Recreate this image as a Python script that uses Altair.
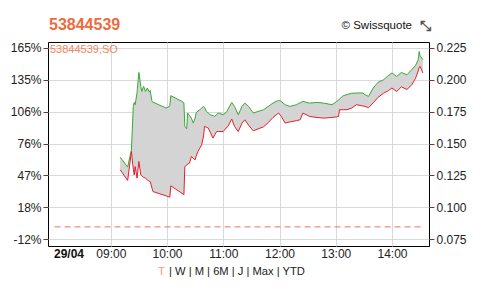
import json
import altair as alt
import pandas as pd

# ---- data ----
times = ["09:10","09:18","09:22","09:24","09:25","09:26","09:28","09:30","09:32","09:33",
         "09:35","09:37","09:39","09:41","09:42","09:44","09:45","09:59","10:01","10:03",
         "10:04","10:16","10:18","10:19","10:21","10:22","10:24","10:26","10:28","10:30",
         "10:31","10:33","10:35","10:37","10:39","10:40","10:42","10:44","10:46","10:49",
         "10:51","10:53","10:55","11:00","11:04","11:05","11:09","11:12","11:16","11:20",
         "11:23","11:27","11:32","11:37","11:43","11:48","11:53","11:59","12:02","12:06",
         "12:11","12:18","12:22","12:25","12:32","12:40","12:47","12:56","13:01","13:03",
         "13:04","13:08","13:12","13:17","13:22","13:29","13:31","13:35","13:40","13:45",
         "13:51","13:56","14:00","14:05","14:10","14:16","14:21","14:25","14:28","14:29",
         "14:30","14:33"]
high = [0.1394,0.1316,0.1451,0.1791,0.1823,0.1805,0.1900,0.2058,0.1949,0.1909,
        0.1949,0.1909,0.1936,0.1905,0.1917,0.1831,0.1825,0.1779,0.1785,0.1797,
        0.1876,0.1831,0.1820,0.1635,0.1617,0.1740,0.1720,0.1700,0.1661,0.1700,
        0.1740,0.1755,0.1766,0.1780,0.1792,0.1785,0.1752,0.1740,0.1726,0.1720,
        0.1713,0.1730,0.1740,0.1726,0.1752,0.1770,0.1823,0.1792,0.1726,0.1792,
        0.1818,0.1792,0.1740,0.1752,0.1766,0.1792,0.1818,0.1840,0.1830,0.1805,
        0.1792,0.1805,0.1820,0.1831,0.1818,0.1823,0.1818,0.1805,0.1831,0.1840,
        0.1850,0.1876,0.1885,0.1895,0.1897,0.1897,0.1885,0.1870,0.1936,0.1980,
        0.2001,0.2033,0.2054,0.2027,0.2058,0.2040,0.2080,0.2111,0.2158,0.2223,
        0.2190,0.2158]
low = [0.1295,0.1211,0.1438,0.1300,0.1255,0.1320,0.1229,0.1360,0.1255,0.1248,
       0.1235,0.1229,0.1215,0.1205,0.1203,0.1150,0.1124,0.1090,0.1085,0.1080,
       0.1169,0.1110,0.1098,0.1320,0.1330,0.1340,0.1347,0.1399,0.1385,0.1373,
       0.1400,0.1438,0.1465,0.1491,0.1560,0.1635,0.1628,0.1622,0.1590,0.1543,
       0.1570,0.1595,0.1595,0.1595,0.1630,0.1635,0.1693,0.1635,0.1595,0.1661,
       0.1687,0.1645,0.1600,0.1615,0.1632,0.1665,0.1705,0.1740,0.1713,0.1661,
       0.1670,0.1680,0.1687,0.1740,0.1713,0.1705,0.1700,0.1705,0.1710,0.1713,
       0.1766,0.1766,0.1766,0.1779,0.1805,0.1795,0.1792,0.1782,0.1820,0.1862,
       0.1895,0.1915,0.1936,0.1909,0.1945,0.1925,0.1960,0.2010,0.2070,0.2100,
       0.2106,0.2054]
ref_price = 0.0847
ref_start, ref_end = "08:00", "14:32"
x_domain = ["07:53", "14:39:30"]
y_domain = [0.0697, 0.2297]
hour_ticks = ["09:00", "10:00", "11:00", "12:00", "13:00", "14:00"]
right_ticks = [0.075, 0.100, 0.125, 0.150, 0.175, 0.200, 0.225]
left_labels = ["-12%", "18%", "47%", "76%", "106%", "135%", "165%"]
day = "2024-04-29"
day_label = "29/04"
title_text = "53844539"
series_label = "53844539,SO"
credit = "© Swissquote"
nav_first = "T"
nav_rest = "| W | M | 6M | J | Max | YTD"

def ts(hm):
    return f"{day}T{hm if hm.count(':') == 2 else hm + ':00'}Z"

def ms(hm):
    return int(pd.Timestamp(ts(hm)).value // 1_000_000)

df = pd.DataFrame({"t": [ts(t) for t in times], "high": high, "low": low})
ref_df = pd.DataFrame({"t": [ts(ref_start)], "t2": [ts(ref_end)], "p": [ref_price]})

FONT = "Liberation Sans"
W, H = 381, 204

xscale = alt.Scale(type="utc", domain=[ms(x_domain[0]), ms(x_domain[1])])
yscale = alt.Scale(domain=y_domain, nice=False, zero=False)

left_expr = f"{json.dumps(left_labels)}[round((datum.value-{right_ticks[0]})/0.025)]"

xaxis = alt.Axis(values=[ms(h) for h in hour_ticks],
                 labelExpr="utcFormat(datum.value, '%H:%M')",
                 title=None, grid=True, gridColor="#d9d9d9", ticks=False, domain=False,
                 labelPadding=2, labelFontSize=12, labelColor="#222", labelFont=FONT)

left_axis = alt.Axis(orient="left", values=right_ticks, labelExpr=left_expr, title=None,
                     grid=True, gridColor="#d9d9d9", domain=False, tickColor="#8b2a2a",
                     tickSize=5, labelPadding=2, labelFontSize=12, labelColor="#222",
                     labelFont=FONT)
right_axis = alt.Axis(orient="right", values=right_ticks, format=".3f", title=None,
                      grid=False, domain=False, tickColor="#8b2a2a", tickSize=5,
                      labelPadding=2, labelFontSize=12, labelColor="#222", labelFont=FONT)

base = alt.Chart(df)

area = base.mark_area(color="#d4d4d4", opacity=1).encode(
    x=alt.X("t:T", scale=xscale, axis=xaxis),
    y=alt.Y("high:Q", scale=yscale, axis=left_axis),
    y2="low:Q",
)
green = base.mark_line(color="#3aa935", strokeWidth=1).encode(
    x=alt.X("t:T", scale=xscale),
    y=alt.Y("high:Q", scale=yscale, axis=right_axis),
)
red = base.mark_line(color="#e0212b", strokeWidth=1).encode(
    x=alt.X("t:T", scale=xscale),
    y=alt.Y("low:Q", scale=yscale, axis=None),
)
refline = alt.Chart(ref_df).mark_rule(color="#e07a5f", strokeDash=[6, 4], strokeWidth=1).encode(
    x=alt.X("t:T", scale=xscale),
    x2="t2:T",
    y=alt.Y("p:Q", scale=yscale, axis=None),
)

one = alt.Data(values=[{}])

def txt(text, x, y, size, color, weight="normal", align="left", baseline="alphabetic"):
    return alt.Chart(one).mark_text(
        text=text, fontSize=size, color=color, fontWeight=weight, font=FONT,
        align=align, baseline=baseline,
    ).encode(x=alt.value(x), y=alt.value(y))

texts = [
    txt(title_text, 1, -12, 16, "#ef6a3c", weight="bold"),
    txt(credit, 364, -13, 11.5, "#111", align="right"),
    txt("⤡", 377, -11, 14, "#555", weight="bold", align="center"),
    txt(series_label, 2, 10.5, 11, "#f08462"),
    txt(day_label, 21, 216, 12, "#111", weight="bold", align="center"),
    txt(nav_first, 110, 233, 11.5, "#f0a080"),
    txt(nav_rest, 121, 233, 11.2, "#222"),
]

chart = alt.layer(area, green, red, refline, *texts).resolve_scale(
    y="shared"
).resolve_axis(y="independent").properties(
    width=W, height=H,
    autosize=alt.AutoSizeParams(type="none"),
    padding={"left": 48, "top": 42, "right": 53, "bottom": 47},
    background="white",
).configure_view(stroke="black", strokeWidth=1)

chart.save("out.html", embed_options={"renderer": "svg", "actions": False})
